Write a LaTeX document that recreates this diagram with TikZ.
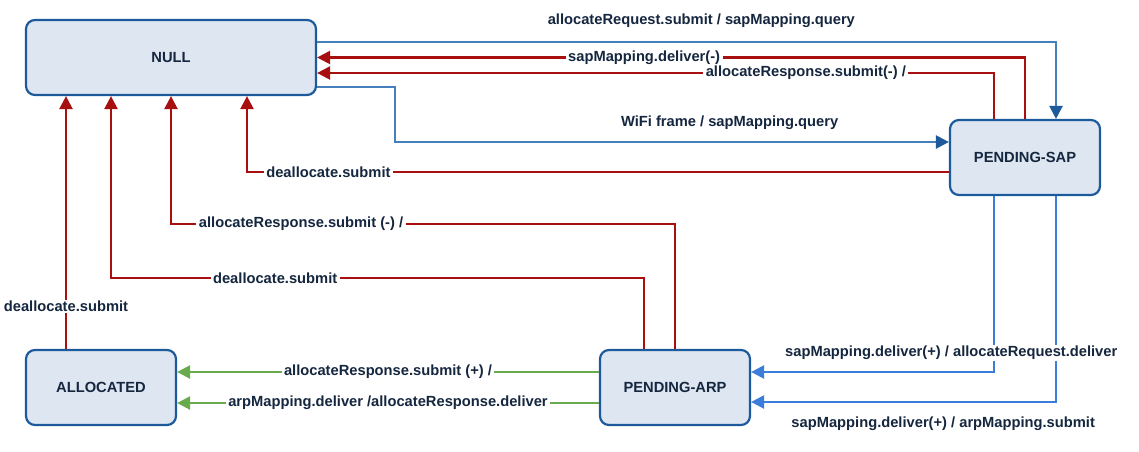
\documentclass[tikz,border=0pt]{standalone}
\usepackage{fontspec}
\setmainfont{Liberation Sans}
\usetikzlibrary{arrows.meta}
\definecolor{boxfill}{HTML}{DEE6F1}
\definecolor{boxdraw}{HTML}{1C5A9C}
\definecolor{txt}{HTML}{15263F}
\definecolor{redl}{HTML}{A80F0F}
\definecolor{bluet}{HTML}{4580BD}
\definecolor{blueb}{HTML}{3B7DD8}
\definecolor{greenl}{HTML}{6AAA4F}
\begin{document}
\begin{tikzpicture}[x=1pt,y=-1pt,
  font=\fontsize{14.7}{17}\selectfont\bfseries,
  state/.style={draw=boxdraw, fill=boxfill, line width=2.2pt, rounded corners=9pt,
    minimum width=150pt, minimum height=75pt, text=txt, inner sep=0pt},
  lab/.style={fill=white, text=txt, inner xsep=2.5pt, inner ysep=1pt},
  freelab/.style={text=txt, inner sep=0pt},
  tip/.style={-{Triangle[length=13pt,width=13pt,#1]}},
  rc/.style={draw=redl, line width=2.3pt, tip={}},
  bt/.style={draw=bluet, line width=2.3pt, tip={color=boxdraw}},
  bb/.style={draw=blueb, line width=2.3pt, tip={}},
  gr/.style={draw=greenl, line width=2.3pt, tip={}}]
\useasboundingbox (0,0) rectangle (1139,451);
\fill[white] (0,0) rectangle (1139,451);

\node[state, minimum width=290pt] (null) at (171,57.5) {NULL};
\node[state] (sap) at (1025,157.5) {PENDING-SAP};
\node[state] (alloc) at (101,387.5) {ALLOCATED};
\node[state] (arp) at (675,387.5) {PENDING-ARP};

% top connectors
\draw[bt] ([yshift=15.5pt]null.east) -| node[freelab, pos=0.26, yshift=21pt]{allocateRequest.submit / sapMapping.query} ([xshift=31pt]sap.north);
\draw[rc] (sap.north) |- node[lab, pos=0.769]{sapMapping.deliver(-)} (null.east);
\draw[rc] ([xshift=-31pt]sap.north) |- node[lab, pos=0.639]{allocateResponse.submit(-) /} ([yshift=-15.5pt]null.east);
\draw[bt] ([yshift=-29.5pt]null.east) -- ++(78,0) |- node[freelab, pos=0.802, yshift=19pt]{WiFi frame / sapMapping.query} ([yshift=15.5pt]sap.west);

% returns into NULL from below
\draw[rc] ([yshift=-14.5pt]sap.west) -| node[lab, pos=0.442]{deallocate.submit} ([xshift=76pt]null.south);
\draw[rc] (arp.north) -- ++(0,-125) -| node[lab, pos=0.371]{allocateResponse.submit (-) /} (null.south);
\draw[rc] ([xshift=-31pt]arp.north) -- ++(0,-71) -| node[lab, pos=0.346]{deallocate.submit} ([xshift=-60pt]null.south);
\draw[rc] ([xshift=-35pt]alloc.north) -- node[lab, pos=0.169]{deallocate.submit} ([xshift=-105pt]null.south);

% SAP -> ARP
\draw[bb] ([xshift=31pt]sap.south) |- node[freelab, pos=0.685, yshift=-22pt]{sapMapping.deliver(+) / arpMapping.submit} ([yshift=-14.5pt]arp.east);
\draw[bb] ([xshift=-31pt]sap.south) |- node[lab, pos=0.588, yshift=19pt]{sapMapping.deliver(+) / allocateRequest.deliver} ([yshift=15.5pt]arp.east);

% ARP -> ALLOCATED
\draw[gr] ([yshift=15.5pt]arp.west) -- node[lab]{allocateResponse.submit (+) /} ([yshift=15.5pt]alloc.east);
\draw[gr] ([yshift=-15.5pt]arp.west) -- node[lab]{arpMapping.deliver /allocateResponse.deliver} ([yshift=-15.5pt]alloc.east);
\end{tikzpicture}
\end{document}
